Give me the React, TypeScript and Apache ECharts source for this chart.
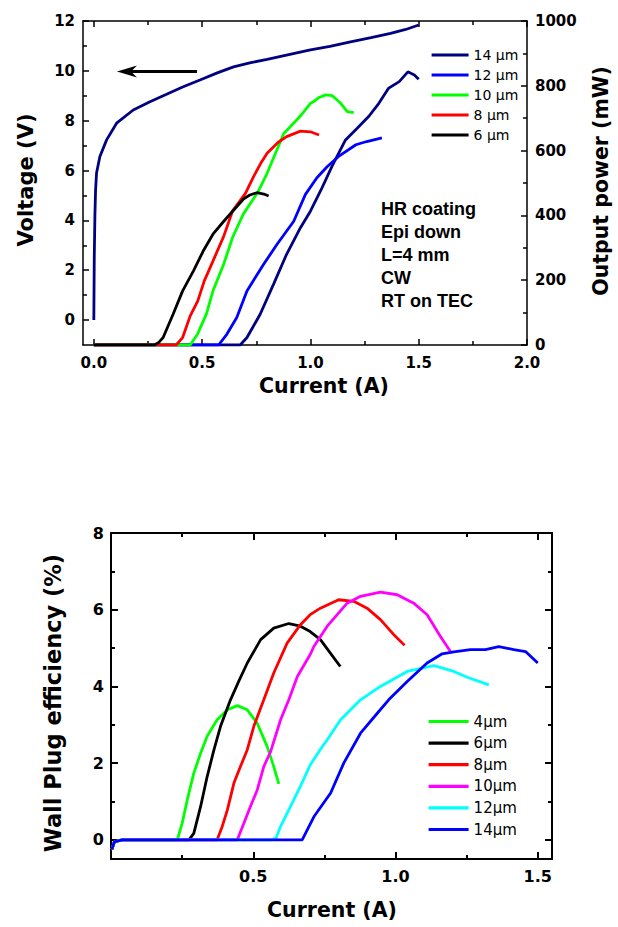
import React, { useEffect, useRef } from "react";
import * as echarts from "echarts";

// ---------- Top chart: V-I (left axis) and L-I (right axis) ----------
const TOP_LEGEND = ["14 µm", "12 µm", "10 µm", "8 µm", "6 µm"];
const TOP_X_MAJOR = [0, 0.5, 1.0, 1.5, 2.0];
const TOP_X_MINOR = [0.25, 0.75, 1.25, 1.75];
const TOP_YL_MAJOR = [0, 2, 4, 6, 8, 10, 12];
const TOP_YL_MINOR = [1, 3, 5, 7, 9, 11];
const TOP_YR_MAJOR = [0, 200, 400, 600, 800, 1000];
const TOP_YR_MINOR = [100, 300, 500, 700, 900];

// Voltage (V) vs current (A), 14 µm device
const VOLTAGE_14: [number, number][] = [
  [0.0, 0], [0.002, 2.5], [0.005, 4.2], [0.008, 5.2], [0.0125, 5.9], [0.028, 6.56],
  [0.059, 7.23], [0.105, 7.9], [0.182, 8.43], [0.259, 8.76], [0.336, 9.06], [0.41, 9.35],
  [0.49, 9.63], [0.57, 9.92], [0.645, 10.16], [0.72, 10.32], [0.8, 10.46], [0.9, 10.65],
  [1.0, 10.84], [1.09, 10.98], [1.185, 11.16], [1.28, 11.33], [1.37, 11.5], [1.44, 11.66],
  [1.5, 11.84],
];

// Output power (mW) vs current (A)
const POWER_14: [number, number][] = [
  [0, 0], [0.676, 0], [0.707, 23], [0.768, 95], [0.83, 188], [0.89, 280], [0.954, 362],
  [1.0, 413], [1.05, 480], [1.1, 552], [1.162, 633], [1.216, 669], [1.27, 706], [1.316, 746],
  [1.36, 792], [1.41, 813], [1.45, 843], [1.48, 833], [1.5, 820],
];
const POWER_12: [number, number][] = [
  [0, 0], [0.576, 0], [0.614, 33], [0.66, 85], [0.707, 167], [0.784, 249], [0.846, 311],
  [0.923, 382], [0.977, 465], [1.03, 516], [1.077, 550], [1.13, 582], [1.21, 618],
  [1.26, 628], [1.33, 639],
];
const POWER_10: [number, number][] = [
  [0, 0], [0.445, 0], [0.48, 35], [0.52, 96], [0.55, 167], [0.6, 250], [0.64, 331],
  [0.69, 404], [0.755, 469], [0.8, 530], [0.877, 653], [0.93, 690], [0.96, 712], [1.0, 746],
  [1.015, 751], [1.04, 764], [1.07, 772], [1.1, 770], [1.14, 746], [1.17, 720], [1.2, 717],
];
const POWER_8: [number, number][] = [
  [0, 0], [0.38, 0], [0.41, 23], [0.445, 90], [0.48, 136], [0.51, 198], [0.55, 259],
  [0.6, 336], [0.64, 413], [0.7, 468], [0.737, 519], [0.77, 560], [0.8, 592], [0.85, 625],
  [0.89, 643], [0.954, 660], [1.0, 658], [1.04, 648],
];
const POWER_6: [number, number][] = [
  [0, 0], [0.28, 0], [0.3, 8], [0.32, 23], [0.366, 95], [0.41, 167], [0.46, 229],
  [0.505, 290], [0.55, 342], [0.6, 382], [0.645, 416], [0.69, 450], [0.72, 463],
  [0.753, 470], [0.785, 466], [0.807, 460],
];

const TOP_NOTES = ["HR coating", "Epi down", "L=4 mm", "CW", "RT on TEC"];

// ---------- Bottom chart: wall plug efficiency ----------
const BOT_LEGEND = ["4µm", "6µm", "8µm", "10µm", "12µm", "14µm"];
const BOT_X_MAJOR = [0.5, 1.0, 1.5];
const BOT_X_MINOR = [0.25, 0.75, 1.25];
const BOT_Y_MAJOR = [0, 2, 4, 6, 8];
const BOT_Y_MINOR = [1, 3, 5, 7];

const WPE_4: [number, number][] = [
  [0.003, -0.25], [0.012, -0.05], [0.04, 0], [0.233, 0], [0.25, 0.43], [0.268, 1.04],
  [0.291, 1.74], [0.315, 2.26], [0.338, 2.7], [0.373, 3.13], [0.409, 3.39], [0.444, 3.5],
  [0.479, 3.39], [0.514, 3.04], [0.549, 2.43], [0.572, 1.91], [0.59, 1.46],
];
const WPE_6: [number, number][] = [
  [0.003, -0.25], [0.012, -0.05], [0.04, 0], [0.274, 0], [0.291, 0.17], [0.315, 0.87],
  [0.338, 1.65], [0.362, 2.35], [0.385, 2.96], [0.42, 3.65], [0.45, 4.15], [0.479, 4.61],
  [0.526, 5.22], [0.572, 5.52], [0.625, 5.64], [0.666, 5.57], [0.7, 5.43], [0.736, 5.22],
  [0.771, 4.87], [0.806, 4.52],
];
const WPE_8: [number, number][] = [
  [0.003, -0.25], [0.012, -0.05], [0.04, 0], [0.373, 0], [0.391, 0.35], [0.409, 0.78],
  [0.432, 1.48], [0.455, 1.91], [0.479, 2.35], [0.502, 2.96], [0.537, 3.65], [0.572, 4.35],
  [0.619, 5.13], [0.666, 5.61], [0.7, 5.87], [0.736, 6.04], [0.8, 6.26], [0.853, 6.22],
  [0.9, 6.04], [0.947, 5.74], [0.994, 5.35], [1.032, 5.07],
];
const WPE_10: [number, number][] = [
  [0.003, -0.25], [0.012, -0.05], [0.04, 0], [0.444, 0], [0.467, 0.43], [0.49, 0.87],
  [0.514, 1.3], [0.537, 1.91], [0.561, 2.3], [0.596, 3.13], [0.625, 3.65], [0.655, 4.26],
  [0.7, 4.83], [0.713, 5.04], [0.76, 5.57], [0.83, 6.17], [0.877, 6.35], [0.947, 6.46],
  [1.006, 6.39], [1.064, 6.17], [1.111, 5.87], [1.158, 5.3], [1.193, 4.91],
];
const WPE_12: [number, number][] = [
  [0.003, -0.25], [0.012, -0.05], [0.04, 0], [0.565, 0], [0.58, 0.05], [0.596, 0.35],
  [0.631, 0.87], [0.666, 1.4], [0.7, 1.95], [0.735, 2.35], [0.76, 2.61], [0.807, 3.13],
  [0.877, 3.65], [0.947, 4.0], [1.041, 4.39], [1.135, 4.54], [1.205, 4.39], [1.252, 4.24],
  [1.328, 4.04],
];
const WPE_14: [number, number][] = [
  [0.003, -0.25], [0.012, -0.05], [0.04, 0], [0.672, 0], [0.713, 0.6], [0.772, 1.22],
  [0.818, 2.0], [0.877, 2.78], [0.936, 3.3], [0.976, 3.65], [1.041, 4.13], [1.111, 4.61],
  [1.164, 4.85], [1.205, 4.9], [1.263, 4.96], [1.316, 4.96], [1.363, 5.04], [1.416, 4.96],
  [1.457, 4.91], [1.5, 4.61],
];

const SANS = "'DejaVu Sans', sans-serif";
const ARIAL = "'Liberation Sans', Arial, sans-serif";

function axis(
  gridIndex: number,
  position: string,
  min: number,
  max: number,
  ticks: number[],
  tickLen: number,
  main: boolean,
  labels: number[] | null,
  fmt: (v: number) => string,
  fontSize: number,
  lineWidth: number,
  margin: number
) {
  return {
    type: "value",
    gridIndex,
    position,
    min,
    max,
    scale: true,
    splitLine: { show: false },
    axisLine: { show: main, onZero: false, lineStyle: { color: "#000", width: lineWidth } },
    axisTick: {
      show: true,
      inside: true,
      length: tickLen,
      customValues: ticks,
      lineStyle: { color: "#000", width: lineWidth },
    },
    axisLabel: labels
      ? {
          show: true,
          customValues: labels,
          formatter: (v: number) => fmt(v),
          color: "#000",
          fontFamily: SANS,
          fontWeight: "bold",
          fontSize,
          margin,
        }
      : { show: false },
  };
}

const fx1 = (v: number) => v.toFixed(1);
const fint = (v: number) => String(Math.round(v));

export default function App() {
  const ref = useRef<HTMLDivElement>(null);
  useEffect(() => {
    if (!ref.current) return;
    const chart = echarts.init(ref.current, null, { renderer: "svg" });

    const tX = { min: -0.05, max: 2.0 };
    const bX = { min: 0, max: 1.55 };

    const xAxis = [
      axis(0, "bottom", tX.min, tX.max, TOP_X_MAJOR, 6, true, TOP_X_MAJOR, fx1, 15, 1.5, 10),
      axis(0, "bottom", tX.min, tX.max, TOP_X_MINOR, 4, false, null, fx1, 15, 1.5, 10),
      axis(0, "top", tX.min, tX.max, TOP_X_MAJOR, 6, true, null, fx1, 15, 1.5, 10),
      axis(0, "top", tX.min, tX.max, TOP_X_MINOR, 4, false, null, fx1, 15, 1.5, 10),
      axis(1, "bottom", bX.min, bX.max, BOT_X_MAJOR, 7, true, BOT_X_MAJOR, fx1, 16, 2, 9),
      axis(1, "bottom", bX.min, bX.max, BOT_X_MINOR, 4, false, null, fx1, 16, 2, 9),
      axis(1, "top", bX.min, bX.max, BOT_X_MAJOR, 7, true, null, fx1, 16, 2, 9),
      axis(1, "top", bX.min, bX.max, BOT_X_MINOR, 4, false, null, fx1, 16, 2, 9),
    ];
    const yAxis = [
      axis(0, "left", -1, 12, TOP_YL_MAJOR, 6, true, TOP_YL_MAJOR, fint, 15, 1.5, 8),
      axis(0, "left", -1, 12, TOP_YL_MINOR, 4, false, null, fint, 15, 1.5, 8),
      axis(0, "right", 0, 1000, TOP_YR_MAJOR, 6, true, TOP_YR_MAJOR, fint, 15, 1.5, 8),
      axis(0, "right", 0, 1000, TOP_YR_MINOR, 4, false, null, fint, 15, 1.5, 8),
      axis(1, "left", -0.5, 8, BOT_Y_MAJOR, 7, true, BOT_Y_MAJOR, fint, 16, 2, 7),
      axis(1, "left", -0.5, 8, BOT_Y_MINOR, 4, false, null, fint, 16, 2, 7),
      axis(1, "right", -0.5, 8, BOT_Y_MAJOR, 7, true, null, fint, 16, 2, 7),
      axis(1, "right", -0.5, 8, BOT_Y_MINOR, 4, false, null, fint, 16, 2, 7),
    ];

    const line = (
      name: string,
      data: [number, number][],
      color: string,
      xi: number,
      yi: number
    ) => ({
      type: "line",
      name,
      data,
      xAxisIndex: xi,
      yAxisIndex: yi,
      showSymbol: false,
      symbol: "none",
      color,
      itemStyle: { color, opacity: 0 },
      lineStyle: { color, width: 2.8 },
      emphasis: { disabled: true },
    });

    const series = [
      line("14 µm V", VOLTAGE_14, "#000080", 0, 0),
      line("14 µm", POWER_14, "#000080", 0, 2),
      line("12 µm", POWER_12, "#0000ff", 0, 2),
      line("10 µm", POWER_10, "#00ff00", 0, 2),
      line("8 µm", POWER_8, "#ff0000", 0, 2),
      line("6 µm", POWER_6, "#000000", 0, 2),
      line("4µm", WPE_4, "#00ff00", 4, 4),
      line("6µm", WPE_6, "#000000", 4, 4),
      line("8µm", WPE_8, "#ff0000", 4, 4),
      line("10µm", WPE_10, "#ff00ff", 4, 4),
      line("12µm", WPE_12, "#00ffff", 4, 4),
      line("14µm", WPE_14, "#0000ff", 4, 4),
    ];

    const title = (text: string, x: number, y: number, size: number, rot = 0) => ({
      type: "text",
      x,
      y,
      rotation: rot,
      style: {
        text,
        fill: "#000",
        font: `bold ${size}px ${SANS}`,
        textAlign: "center",
        textVerticalAlign: "middle",
      },
    });

    const graphic: any[] = [
      title("Current (A)", 324, 386, 20.5),
      title("Voltage (V)", 26, 180, 21, Math.PI / 2),
      title("Output power (mW)", 601, 181, 20.5, Math.PI / 2),
      title("Current (A)", 332, 910, 20.5),
      title("Wall Plug efficiency (%)", 53, 703, 22.5, Math.PI / 2),
      // arrow pointing to the voltage axis
      {
        type: "line",
        shape: { x1: 197, y1: 71.5, x2: 128, y2: 71.5 },
        style: { stroke: "#000", lineWidth: 3 },
      },
      {
        type: "polygon",
        shape: { points: [[117, 71.5], [137, 65.5], [131, 71.5], [137, 77.5]] },
        style: { fill: "#000" },
      },
      ...TOP_NOTES.map((t, i) => ({
        type: "text",
        x: 381,
        y: 209 + i * 23,
        style: {
          text: t,
          fill: "#000",
          font: `bold 18px ${ARIAL}`,
          textAlign: "left",
          textVerticalAlign: "middle",
        },
      })),
    ];

    chart.setOption({
      animation: false,
      backgroundColor: "#fff",
      grid: [
        { left: 83, top: 21, width: 444, height: 324 },
        { left: 111, top: 533, width: 441, height: 326 },
      ],
      xAxis,
      yAxis,
      legend: [
        {
          data: TOP_LEGEND,
          orient: "vertical",
          left: 430,
          top: 48,
          padding: 0,
          itemWidth: 37,
          itemHeight: 14,
          itemGap: 6,
          selectedMode: false,
          lineStyle: { width: 3.2 },
          textStyle: { color: "#000", fontFamily: SANS, fontSize: 14 },
        },
        {
          data: BOT_LEGEND,
          orient: "vertical",
          left: 427,
          top: 714,
          padding: 0,
          itemWidth: 40,
          itemHeight: 14,
          itemGap: 6.6,
          selectedMode: false,
          lineStyle: { width: 3.2 },
          textStyle: { color: "#000", fontFamily: SANS, fontSize: 15 },
        },
      ],
      series,
      graphic,
    });
    return () => chart.dispose();
  }, []);
  return (
    <div
      ref={ref}
      style={{ position: "absolute", left: 0, top: 0, width: 618, height: 927 }}
    />
  );
}
